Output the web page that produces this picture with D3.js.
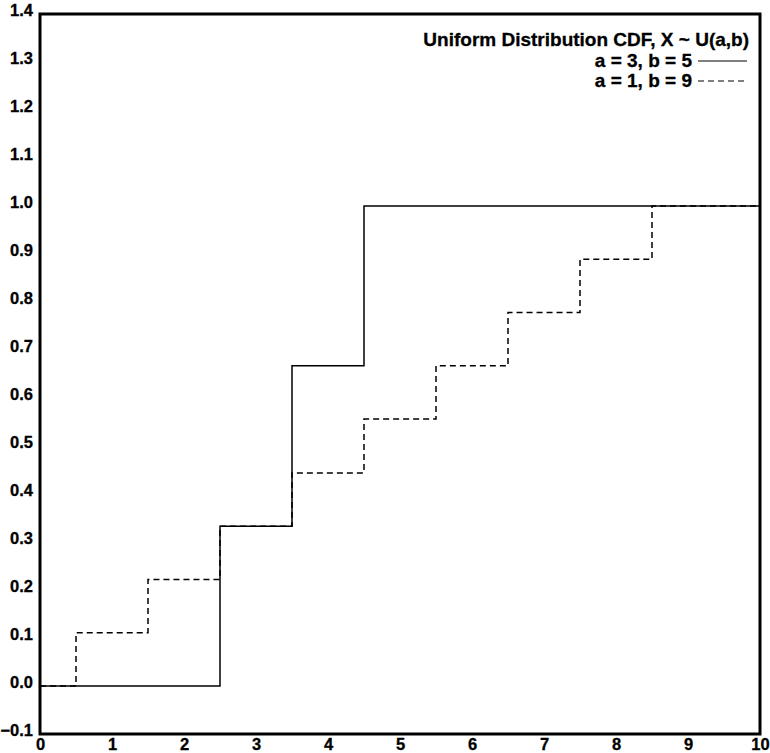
<!DOCTYPE html>
<html>
<head>
<meta charset="utf-8">
<script src="https://cdn.jsdelivr.net/npm/d3@7"></script>
<style>
  body { margin: 0; background: #fff; }
  text { font-family: "Liberation Sans", Arial, Helvetica, sans-serif; font-weight: bold; stroke: #000; stroke-width: 0.3px; }
</style>
</head>
<body>
<div id="chart"></div>
<script>
// 数据
var xTicks = [0, 1, 2, 3, 4, 5, 6, 7, 8, 9, 10]
var yTicks = [-0.1, 0.0, 0.1, 0.2, 0.3, 0.4, 0.5, 0.6, 0.7, 0.8, 0.9, 1.0, 1.1, 1.2, 1.3, 1.4]

// a = 3, b = 5
var solidX = [0, 2.5, 3.5, 4.5, 10]
var solidY = [0, 0.333, 0.667, 1.0, 1.0]
// a = 1, b = 9
var dashX = [0, 0.5, 1.5, 2.5, 3.5, 4.5, 5.5, 6.5, 7.5, 8.5, 10]
var dashY = [0, 0.111, 0.222, 0.333, 0.444, 0.556, 0.667, 0.778, 0.889, 1.0, 1.0]

var title = 'Uniform Distribution CDF, X ~ U(a,b)'
var legendLabels = ['a = 3, b = 5', 'a = 1, b = 9']

function drawChart() {
  var width = 770
  var height = 753
  var left = 40, top = 14, right = 760, bottom = 734

  var svg = d3.select('#chart').append('svg').attr('width', width).attr('height', height)

  var x = d3.scaleLinear().domain([0, 10]).range([left, right])
  var y = d3.scaleLinear().domain([-0.1, 1.4]).range([bottom, top])

  // 坐标轴文字
  var axisLeft = d3.axisLeft(y).tickValues(yTicks).tickSize(0).tickPadding(7)
    .tickFormat(d3.format('.1f'))
  var gy = svg.append('g').attr('transform', `translate(${left}, 0)`).call(axisLeft)
  gy.select('.domain').remove()
  gy.selectAll('text').attr('font-size', 16.5).attr('fill', '#000')
    .attr('font-family', null).attr('dy', '0.1em')

  var axisBottom = d3.axisBottom(x).tickValues(xTicks).tickSize(0).tickPadding(4)
  var gx = svg.append('g').attr('transform', `translate(0, ${bottom})`).call(axisBottom)
  gx.select('.domain').remove()
  gx.selectAll('text').attr('font-size', 16.5).attr('fill', '#000').attr('font-family', null)

  // 线
  function stepLine(xs, ys) {
    return d3.line()
      .x(function(d, i) { return x(xs[i]) })
      .y(function(d, i) { return y(ys[i]) })
      .curve(d3.curveStepAfter)(xs)
  }

  svg.append('path').attr('d', stepLine(solidX, solidY))
    .attr('fill', 'none').attr('stroke', '#000').attr('stroke-width', 1.5)
  svg.append('path').attr('d', stepLine(dashX, dashY))
    .attr('fill', 'none').attr('stroke', '#000').attr('stroke-width', 1.5)
    .attr('stroke-dasharray', '6,4')

  // 边框
  svg.append('rect')
    .attr('x', x(0)).attr('y', y(1.4))
    .attr('width', x(10) - x(0)).attr('height', y(-0.1) - y(1.4))
    .attr('fill', 'none').attr('stroke', '#000').attr('stroke-width', 3)

  // 图例
  var lg = svg.append('g')
  lg.append('text').text(title)
    .attr('x', 749).attr('y', 46).attr('text-anchor', 'end').attr('font-size', 19)
  var styles = [null, '6,4']
  legendLabels.forEach(function(label, i) {
    var yy = 67 + i * 20
    lg.append('text').text(label)
      .attr('x', 692).attr('y', yy).attr('text-anchor', 'end').attr('font-size', 19)
    lg.append('line')
      .attr('x1', 698).attr('x2', 747)
      .attr('y1', yy - 6).attr('y2', yy - 6)
      .attr('stroke', '#000').attr('stroke-width', 1.2)
      .attr('stroke-dasharray', styles[i])
  })
}

drawChart()
</script>
</body>
</html>
